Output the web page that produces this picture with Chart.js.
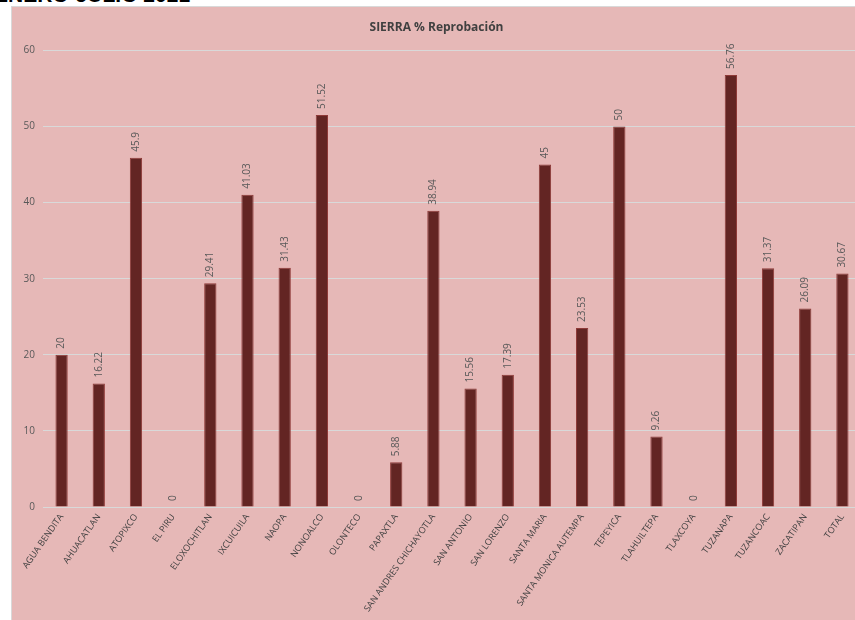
<!DOCTYPE html>
<html>
<head>
<meta charset="utf-8">
<script src="https://cdn.jsdelivr.net/npm/chart.js@4.4.0/dist/chart.umd.min.js"></script>
<style>
  html, body { margin: 0; padding: 0; background: #fff; overflow: hidden; width: 855px; height: 620px; }
  #top { position: absolute; left: -6px; top: -17px; font: bold 21px "Liberation Sans", Arial, sans-serif; color: #000; white-space: nowrap; }
  #box { position: absolute; left: 11px; top: 6px; width: 860px; height: 620px; background: #E6B8B7; border-left: 1px solid #D9D9D9; border-top: 1px solid #D9D9D9; }
</style>
</head>
<body>
<div id="top">ENERO-JULIO 2021</div>
<div id="box"><canvas id="myChart" width="860" height="620"></canvas></div>
<script>
const comunidades = ['AGUA BENDITA', 'AHUACATLAN', 'ATOPIXCO', 'EL PIRU', 'ELOXOCHITLAN', 'IXCUICUILA', 'NAOPA', 'NONOALCO', 'OLONTECO', 'PAPAXTLA', 'SAN ANDRES CHICHAYOTLA', 'SAN ANTONIO', 'SAN LORENZO', 'SANTA MARIA', 'SANTA MONICA AUTEMPA', 'TEPEYICA', 'TLAHUILTEPA', 'TLAXCOYA', 'TUZANAPA', 'TUZANCOAC', 'ZACATIPAN', 'TOTAL']
const reprobacion = [20, 16.22, 45.9, 0, 29.41, 41.03, 31.43, 51.52, 0, 5.88, 38.94, 15.56, 17.39, 45, 23.53, 50, 9.26, 0, 56.76, 31.37, 26.09, 30.67]
const ticksY = [0, 10, 20, 30, 40, 50, 60]

// etiquetas de valor giradas encima de cada barra
const etiquetas = {
    id: 'etiquetas',
    afterDatasetsDraw(chart) {
        const ctx = chart.ctx
        const meta = chart.getDatasetMeta(0)
        ctx.save()
        ctx.font = '10px "Open Sans", sans-serif'
        ctx.fillStyle = '#595959'
        ctx.textAlign = 'left'
        ctx.textBaseline = 'middle'
        meta.data.forEach((bar, i) => {
            ctx.save()
            ctx.translate(bar.x, bar.y - 6)
            ctx.rotate(-Math.PI / 2)
            ctx.fillText(String(reprobacion[i]), 0, 0)
            ctx.restore()
        })
        ctx.restore()
    }
}

var ctx = document.getElementById('myChart')
var myChart = new Chart(ctx, {
    type: 'bar',
    data: {
        labels: comunidades,
        datasets: [{
            data: reprobacion,
            backgroundColor: '#632523',
            borderColor: '#8E3A38',
            borderWidth: 1,
            barPercentage: 0.33,
            categoryPercentage: 1
        }]
    },
    options: {
        responsive: false,
        animation: false,
        layout: { padding: { left: 0, right: 11, top: 0, bottom: 0 } },
        plugins: {
            legend: { display: false },
            tooltip: { enabled: false },
            title: {
                display: true,
                text: 'SIERRA % Reprobación',
                color: '#404040',
                font: { family: '"Open Sans", sans-serif', size: 12, weight: 'bold' },
                padding: { top: 13, bottom: 16 }
            }
        },
        scales: {
            x: {
                grid: { display: false, drawTicks: false },
                border: { color: '#D9D9D9', width: 1 },
                ticks: {
                    autoSkip: false,
                    maxRotation: 55,
                    minRotation: 55,
                    padding: 5,
                    color: '#404040',
                    font: { family: '"Open Sans", sans-serif', size: 9 }
                },
                afterFit: (scale) => { scale.height = 120 }
            },
            y: {
                min: 0,
                max: 60,
                afterBuildTicks: (scale) => { scale.ticks = ticksY.map(v => ({ value: v })) },
                grid: { color: '#D9D9D9', drawTicks: false },
                border: { display: false },
                ticks: {
                    padding: 8,
                    color: '#595959',
                    font: { family: '"Open Sans", sans-serif', size: 10 }
                },
                afterFit: (scale) => { scale.width = 31 }
            }
        }
    },
    plugins: [etiquetas]
})
</script>
</body>
</html>
